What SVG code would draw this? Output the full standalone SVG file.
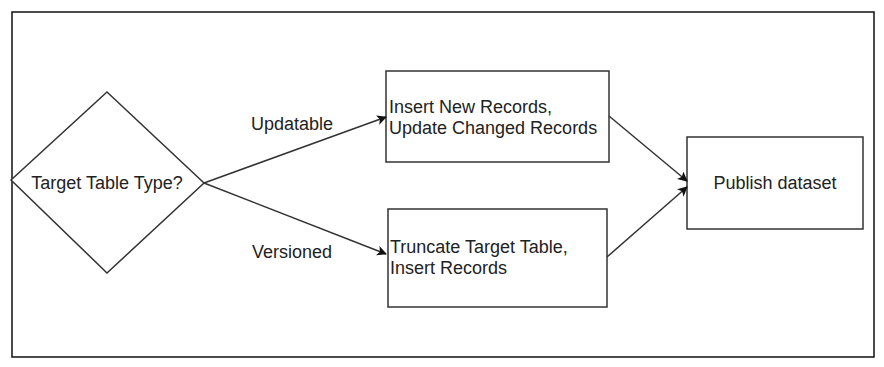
<svg xmlns="http://www.w3.org/2000/svg" width="884" height="367" viewBox="0 0 884 367">
<style>
.frame{fill:#fff;stroke:#111;stroke-width:1.5}
.shape{fill:#fff;stroke:#333;stroke-width:1.5}
.edge{fill:none;stroke:#333;stroke-width:1.5}
text{font-family:"Liberation Sans",Arial,sans-serif;font-size:18px;fill:#222}
</style>
<defs>
<marker id="arr" viewBox="0 0 10 10" refX="9" refY="5" markerWidth="10" markerHeight="10" markerUnits="userSpaceOnUse" orient="auto">
<path d="M0,0 L10,5 L0,10 L2.5,5 Z" fill="#111"/>
</marker>
</defs>
<rect width="884" height="367" fill="#fff"/>
<rect class="frame" x="12" y="12" width="862" height="345"/>
<g id="decision">
<polygon class="shape" points="107,92 204,183 107,273 11,180"/>
<text x="107" y="189" text-anchor="middle">Target Table Type?</text>
</g>
<g id="updatable">
<rect class="shape" x="386" y="71" width="223" height="91"/>
<text x="389" y="113">Insert New Records,</text>
<text x="389" y="134">Update Changed Records</text>
</g>
<g id="versioned">
<rect class="shape" x="388" y="209" width="219" height="98"/>
<text x="390" y="253">Truncate Target Table,</text>
<text x="390" y="274">Insert Records</text>
</g>
<g id="publish">
<rect class="shape" x="687" y="137" width="176" height="92"/>
<text x="775" y="189" text-anchor="middle">Publish dataset</text>
</g>
<g id="connectors">
<path class="edge" d="M204,183 L386,117" marker-end="url(#arr)"/>
<path class="edge" d="M204,183 L386,254" marker-end="url(#arr)"/>
<path class="edge" d="M609,116 L687,181" marker-end="url(#arr)"/>
<path class="edge" d="M607,257 L687,187" marker-end="url(#arr)"/>
<text x="251" y="130">Updatable</text>
<text x="252" y="258">Versioned</text>
</g>
</svg>
